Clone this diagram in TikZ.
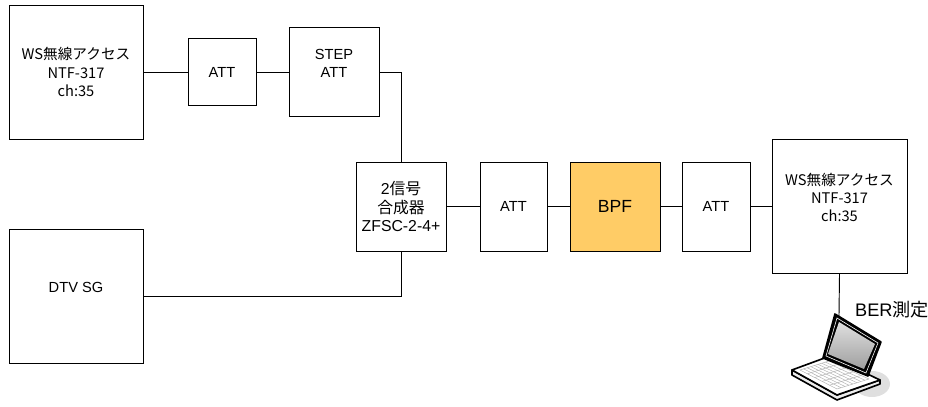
\documentclass[tikz,border=0pt]{standalone}
\usepackage{fontspec}
\setmainfont{Liberation Sans}
\newfontfamily\jp{Noto Sans CJK JP}
\usepackage{xcolor}
\usetikzlibrary{calc,positioning}
\definecolor{bpfcolor}{RGB}{255,204,102}
\tikzset{%
	block/.style    = {draw, rectangle, line width=0.8pt, minimum width=2.04cm, minimum height=2.67cm, inner sep=0pt, align=center, font=\fontsize{12.5}{15}\selectfont},
	smallblock/.style = {block, minimum height=2.01cm},
	device/.style   = {block, minimum width=4.02cm, minimum height=4.02cm, font=\jp\fontsize{12.5}{15.5}\selectfont},
	wire/.style     = {draw, line width=0.8pt},
	keyline/.style  = {draw=gray!60, line width=0.4pt},
	body/.style     = {draw=black, line width=1.4pt, line join=round},
}

\begin{document}
\begin{tikzpicture}
	\useasboundingbox (0,0) rectangle (27.84,-12.18);
	% sources and attenuators
	\node[device] (ws1) at (2.28,-2.16) {WS無線アクセス\\NTF-317\\ch:35};
	\node[smallblock, right of=ws1, node distance=4.38cm] (att1) {ATT};
	\node[block, minimum width=2.7cm, right of=att1, node distance=3.36cm] (satt) {STEP\\ATT\\\mbox{}};
	\node[device, font=\fontsize{12.5}{15}\selectfont, below of=ws1, node distance=6.72cm] (dtv) {DTV SG\\\mbox{}};
	% combiner and the receive chain
	\node[block, minimum width=2.7cm, font=\fontsize{13.5}{16}\selectfont] (comb) at (12.03,-6.195) {2{\jp 信号}\\{\jp 合成器}\\ZFSC-2-4+};
	\node[block, minimum width=2.01cm, right of=comb, node distance=3.375cm] (att2) {ATT};
	\node[block, minimum width=2.7cm, fill=bpfcolor, font=\fontsize{15}{18}\selectfont, right of=att2, node distance=3.045cm] (bpf) {BPF};
	\node[block, right of=bpf, node distance=3.03cm] (att3) {ATT};
	\node[device, minimum width=4.05cm, right of=att3, node distance=3.705cm] (ws2) {WS無線アクセス\\NTF-317\\ch:35\\\mbox{}};

	% laptop, drawn in pixel units
	\begin{scope}[x=0.03cm, y=-0.03cm]
		\fill[gray!25] (872,384) ellipse (18 and 13);
		% base
		\filldraw[body, fill=gray!15] (792,370) -- (837,395) -- (880,380) -- (880,384) -- (837,400) -- (792,375) -- cycle;
		\filldraw[body, fill=white] (792,370) -- (830,356) -- (880,380) -- (837,395) -- cycle;
		\coordinate (k00) at (800,370);
		\coordinate (k10) at (837,389);
		\coordinate (k01) at (829,361);
		\coordinate (k11) at (869,379);
		\foreach \t in {0,0.2,...,1.01} {
			\draw[keyline] ($(k00)!\t!(k10)$) -- ($(k01)!\t!(k11)$);
		}
		\foreach \t in {0,0.125,...,1.01} {
			\draw[keyline] ($(k00)!\t!(k01)$) -- ($(k10)!\t!(k11)$);
		}
		% lid and screen
		\filldraw[body, fill=black] (823,358) -- (835,314) -- (881,342) -- (868,376) -- cycle;
		\draw[white, line width=0.5pt] (826,356) -- (837,318) -- (878,343) -- (866,373) -- cycle;
		\shade[shading angle=-30, top color=gray!25, bottom color=gray!75] (839,322) -- (875,344) -- (864,369) -- (828,354) -- cycle;
		\coordinate (pc) at (839,317);
		\node[anchor=west, inner sep=0pt, font=\fontsize{15.5}{18}\selectfont] (ber) at (855,310) {BER{\jp 測定}};
	\end{scope}

	\draw[wire] (ws1) -- (att1);
	\draw[wire] (att1) -- (satt);
	\draw[wire] (satt.east) -| (comb.north);
	\draw[wire] (dtv.east) -| (comb.south);
	\draw[wire] (comb) -- (att2);
	\draw[wire] (att2) -- (bpf);
	\draw[wire] (bpf) -- (att3);
	\draw[wire] (att3) -- (ws2);
	\draw[wire] (ws2.south) -- (pc);
\end{tikzpicture}
\end{document}
